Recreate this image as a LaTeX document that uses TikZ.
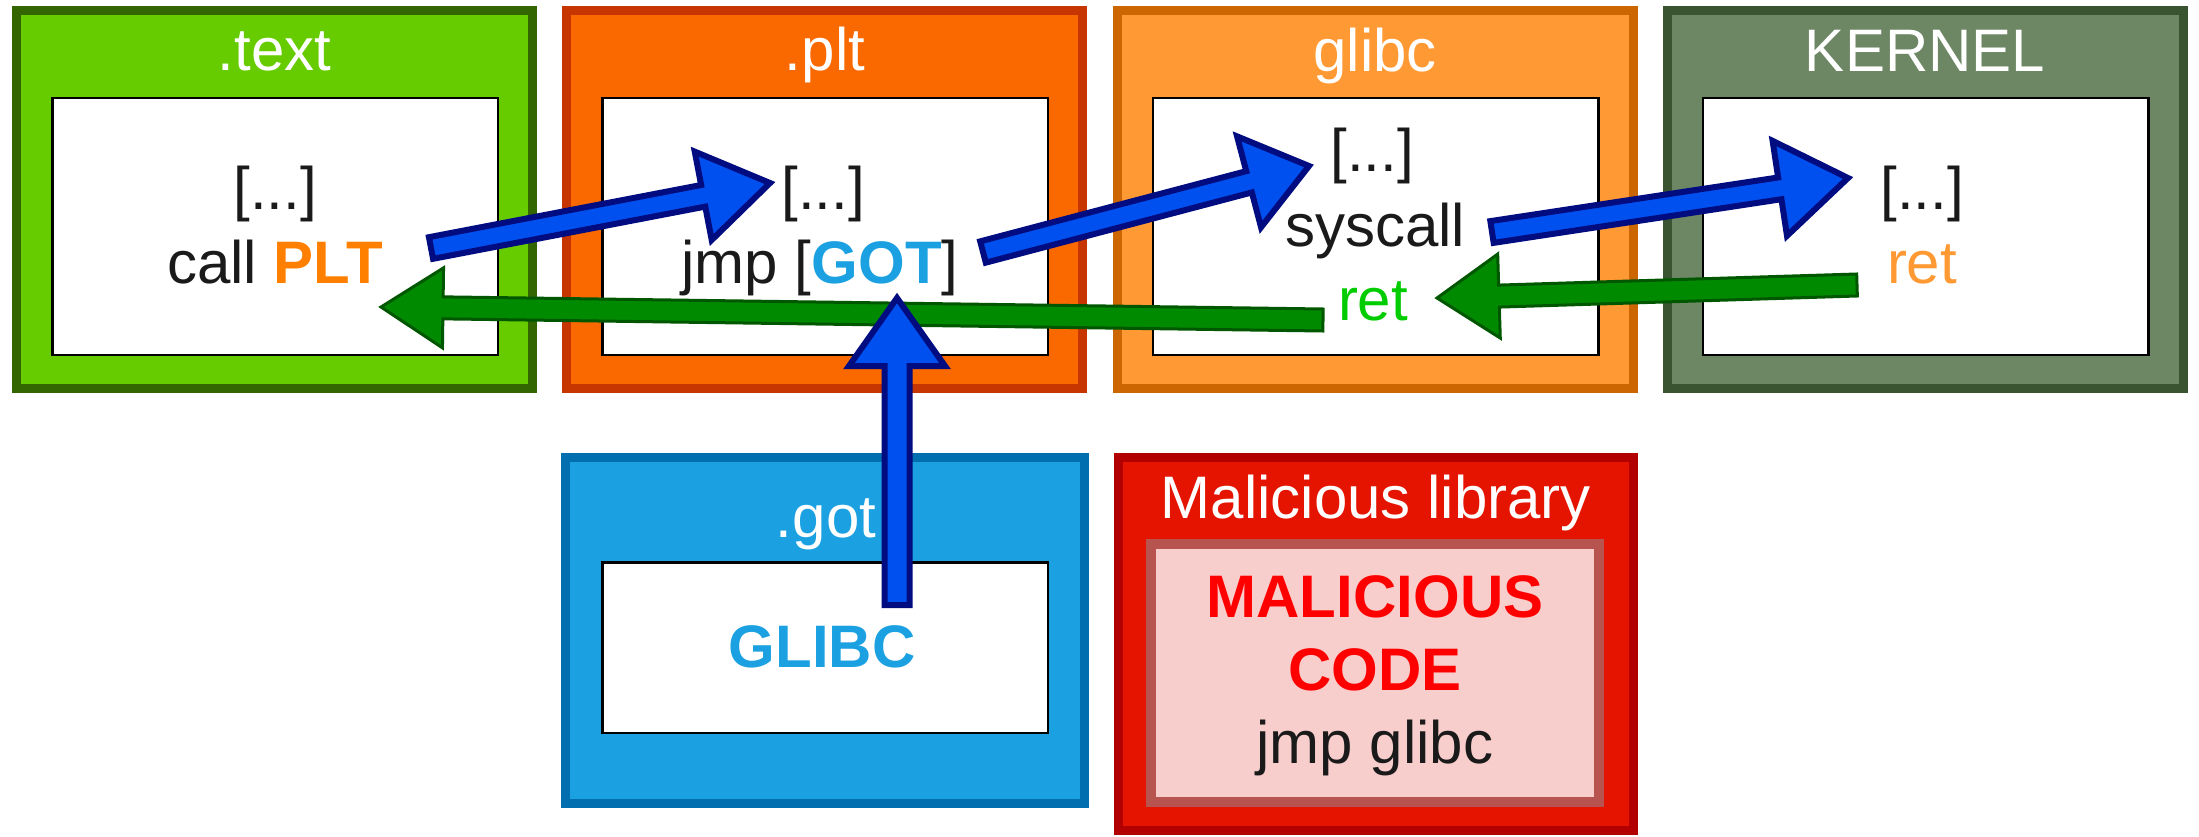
\documentclass[tikz,border=0pt]{standalone}
\usepackage{fontspec}
\setmainfont{Liberation Sans}
\usetikzlibrary{calc}

% section colours
\definecolor{textfill}{HTML}{66CC00}\definecolor{textline}{HTML}{336600}
\definecolor{pltfill}{HTML}{FA6800}\definecolor{pltline}{HTML}{C73500}
\definecolor{libfill}{HTML}{FF9933}\definecolor{libline}{HTML}{CC6600}
\definecolor{kerfill}{HTML}{6D8764}\definecolor{kerline}{HTML}{3A5431}
\definecolor{gotfill}{HTML}{1BA1E2}\definecolor{gotline}{HTML}{006EAF}
\definecolor{malfill}{HTML}{E51400}\definecolor{malline}{HTML}{B20000}
\definecolor{pinkfill}{HTML}{F8CECC}\definecolor{pinkline}{HTML}{B85450}
% text colours
\definecolor{ink}{HTML}{1A1A1A}
\definecolor{pltorange}{HTML}{FF8000}
\definecolor{retgreen}{HTML}{00CC00}
\definecolor{retorange}{HTML}{FF9933}
\definecolor{malred}{HTML}{FF0000}
% arrow colours
\definecolor{arrowblue}{HTML}{0050EF}\definecolor{arrowblueline}{HTML}{000C80}
\definecolor{arrowgreen}{HTML}{008A00}\definecolor{arrowgreenline}{HTML}{005700}

\newcommand{\labelfont}{\fontsize{60}{72}\selectfont}

% block arrow: #1 style, #2 tail, #3 tip, #4 head length, #5 head half width, #6 shaft half width
\newcommand{\flexarrow}[6]{%
  \coordinate (fa-b) at ($(#3)!#4!(#2)$);
  \draw[#1] ($(#2)!#6!90:(#3)$) -- ($(fa-b)!#6!90:(#3)$) -- ($(fa-b)!#5!90:(#3)$)
    -- (#3) -- ($(fa-b)!#5!-90:(#3)$) -- ($(fa-b)!#6!-90:(#3)$)
    -- ($(#2)!#6!-90:(#3)$) -- cycle;
}

\tikzset{
  secbox/.style={rectangle, line width=9pt, inner sep=0pt, outer sep=0pt},
  codebox/.style={rectangle, draw=black, fill=white, line width=2.5pt, inner sep=0pt, outer sep=0pt,
    minimum width=445.5pt},
  ttl/.style={anchor=base, inner sep=0pt, text=white, font=\labelfont},
  code/.style={anchor=base, inner sep=0pt, text=ink, font=\labelfont},
  bluearrow/.style={fill=arrowblue, draw=arrowblueline, line width=6pt, line join=miter},
  greenarrow/.style={fill=arrowgreen, draw=arrowgreenline, line width=3pt, line join=miter},
}

\begin{document}
\begin{tikzpicture}[x=1pt,y=-1pt]
\useasboundingbox (0,0) rectangle (2199,837);

% ---- top row of sections ----
\node[secbox, fill=textfill, draw=textline, minimum width=516pt, minimum height=378pt] (text-sec) at (274.5,199.5) {};
\node[secbox, fill=pltfill, draw=pltline, minimum width=516pt, minimum height=378pt] (plt-sec) at (824.8,199.5) {};
\node[secbox, fill=libfill, draw=libline, minimum width=516pt, minimum height=378pt] (lib-sec) at (1375.1,199.5) {};
\node[secbox, fill=kerfill, draw=kerline, minimum width=516pt, minimum height=378pt] (ker-sec) at (1925.4,199.5) {};

\node[codebox, minimum height=256.5pt] (text-code) at (275,226.5) {};
\node[codebox, minimum height=256.5pt] (plt-code) at (825.3,226.5) {};
\node[codebox, minimum height=256.5pt] (lib-code) at (1375.6,226.5) {};
\node[codebox, minimum height=256.5pt] (ker-code) at (1925.9,226.5) {};

\node[ttl] (text-title) at (274.5,71) {.text};
\node[ttl] (plt-title) at (825,71) {.plt};
\node[ttl] (lib-title) at (1375,72) {glibc};
\node[ttl] (ker-title) at (1925,72) {KERNEL};

\node[code] (text-l1) at (275,209) {[...]};
\node[code] (text-l2) at (275,283) {call \textcolor{pltorange}{\bfseries PLT}};

\node[code] (plt-l1) at (823,209) {[...]};
\node[code] (plt-l2) at (820,283) {jmp [\textcolor{gotfill}{\bfseries GOT}]};

\node[code] (lib-l1) at (1372,172) {[...]};
\node[code] (lib-l2) at (1375,246) {syscall};
\node[code, text=retgreen] (lib-l3) at (1373,320) {ret};

\node[code] (ker-l1) at (1922,209) {[...]};
\node[code, text=retorange] (ker-l2) at (1922,283) {ret};

% ---- bottom row ----
\node[secbox, fill=gotfill, draw=gotline, minimum width=519pt, minimum height=346pt] (got-sec) at (825,630.5) {};
\node[codebox, minimum height=170.5pt] (got-code) at (825,647.5) {};
\node[ttl] (got-title) at (826,537) {.got};
\node[code, text=gotfill, font=\labelfont\bfseries] (got-l1) at (822,667) {GLIBC};

\node[secbox, fill=malfill, draw=malline, minimum width=515pt, minimum height=373pt] (mal-sec) at (1376,644) {};
\node[rectangle, fill=pinkfill, draw=pinkline, line width=10pt, inner sep=0pt,
  minimum width=448pt, minimum height=258pt] (mal-code) at (1375,673) {};
\node[ttl] (mal-title) at (1376,518) {Malicious library};
\node[code, text=malred, font=\labelfont\bfseries] (mal-l1) at (1375,617) {MALICIOUS};
\node[code, text=malred, font=\labelfont\bfseries] (mal-l2) at (1375,690) {CODE};
\node[code] (mal-l3) at (1375,763) {jmp glibc};

% ---- control flow ----
\coordinate (call-out) at (431,248);
\coordinate (plt-entry) at (770,183);
\coordinate (jmp-out) at (983,252);
\coordinate (lib-entry) at (1309,166);
\coordinate (syscall-out) at (1492,232);
\coordinate (ker-entry) at (1848,178);
\coordinate (kret-out) at (1857,285);
\coordinate (lib-ret-in) at (1437,298);
\coordinate (lib-ret-out) at (1323,320);
\coordinate (text-ret-in) at (381,307);
\coordinate (got-out) at (897,605);
\coordinate (got-ref) at (897,298);

% returns
\flexarrow{greenarrow}{kret-out}{lib-ret-in}{62pt}{42pt}{11pt}
\flexarrow{greenarrow}{lib-ret-out}{text-ret-in}{62pt}{40pt}{11pt}
% calls and jumps
\flexarrow{bluearrow}{call-out}{plt-entry}{68pt}{45pt}{11pt}
\flexarrow{bluearrow}{jmp-out}{lib-entry}{62pt}{47pt}{11pt}
\flexarrow{bluearrow}{syscall-out}{ker-entry}{69pt}{48pt}{11pt}
\flexarrow{bluearrow}{got-out}{got-ref}{68pt}{48pt}{12.5pt}
\end{tikzpicture}
\end{document}
